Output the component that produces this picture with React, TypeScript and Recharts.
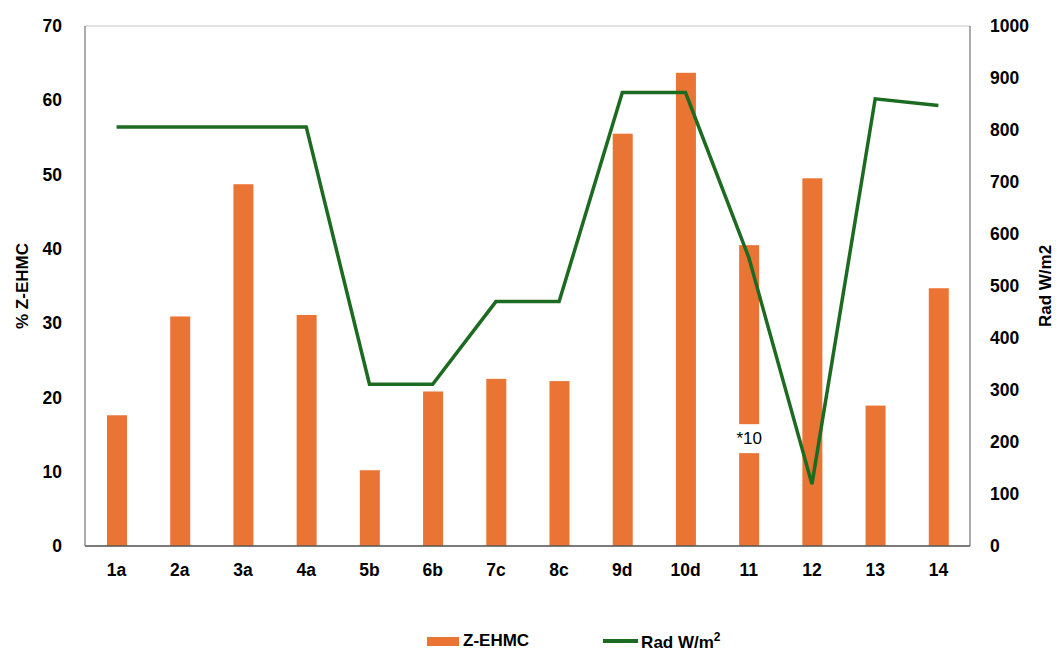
import React from 'react'
import {
  Bar,
  CartesianGrid,
  ComposedChart,
  Legend,
  Line,
  XAxis,
  YAxis,
} from 'recharts'

const categories = ['1a', '2a', '3a', '4a', '5b', '6b', '7c', '8c', '9d', '10d', '11', '12', '13', '14']
const zehmc = [17.6, 30.9, 48.7, 31.1, 10.2, 20.8, 22.5, 22.2, 55.5, 63.7, 40.5, 49.5, 18.9, 34.7]
const rad = [806, 806, 806, 806, 311, 311, 470, 470, 872, 872, 555, 119, 860, 847]
const leftTicks = [0, 10, 20, 30, 40, 50, 60, 70]
const rightTicks = [0, 100, 200, 300, 400, 500, 600, 700, 800, 900, 1000]

// bar "11" is drawn with a break, labelled *10
const breakCategory = '11'
const breakLabel = '*10'
const breakLow = 12.5
const breakHigh = 16.4

const data = categories.map((name, i) => ({ name, zehmc: zehmc[i], rad: rad[i] }))

const ORANGE = '#EA7433'
const GREEN = '#1C6B21'
const FONT = '"Liberation Sans", Arial, sans-serif'
const tickStyle = { fill: '#000', fontSize: 17.5, fontWeight: 'bold', fontFamily: FONT }

const BarShape = (props: any) => {
  const { x, y, width, height, payload } = props
  if (payload.name !== breakCategory) {
    return <rect x={x} y={y} width={width} height={height} fill={ORANGE} />
  }
  const v = payload.zehmc
  const yHigh = y + height * (1 - breakHigh / v)
  const yLow = y + height * (1 - breakLow / v)
  return (
    <g>
      <rect x={x} y={y} width={width} height={yHigh - y} fill={ORANGE} />
      <rect x={x} y={yLow} width={width} height={y + height - yLow} fill={ORANGE} />
      <text
        x={x + width / 2}
        y={(yHigh + yLow) / 2}
        textAnchor="middle"
        dominantBaseline="central"
        fontFamily={FONT}
        fontSize={17}
        fill="#000"
      >
        {breakLabel}
      </text>
    </g>
  )
}

const LegendContent = () => (
  <div
    style={{
      display: 'flex',
      alignItems: 'center',
      paddingLeft: 427,
      fontFamily: FONT,
      fontWeight: 'bold',
      fontSize: 17,
      color: '#000',
      height: 20,
    }}
  >
    <div style={{ display: 'flex', alignItems: 'center', marginRight: 74 }}>
      <div style={{ width: 32, height: 9, background: ORANGE, marginRight: 4 }} />
      <span>Z-EHMC</span>
    </div>
    <div style={{ display: 'flex', alignItems: 'center' }}>
      <div style={{ width: 35, height: 4, background: GREEN, marginRight: 3 }} />
      <span>
        Rad W/m<sup style={{ fontSize: 12 }}>2</sup>
      </span>
    </div>
  </div>
)

export default function App() {
  return (
    <div style={{ position: 'absolute', left: 0, top: 0, background: '#fff' }}>
      <ComposedChart
        width={1059}
        height={653}
        data={data}
        margin={{ top: 26, right: 0, bottom: 67, left: 0 }}
      >
        <CartesianGrid vertical={false} stroke="#D9D9D9" strokeWidth={1.5} />
        <XAxis
          dataKey="name"
          height={40}
          tickLine={false}
          axisLine={{ stroke: '#595959', strokeWidth: 1.5 }}
          tick={tickStyle}
          tickMargin={12}
        />
        <YAxis
          yAxisId="left"
          width={85}
          domain={[0, 70]}
          ticks={leftTicks}
          interval={0}
          tickLine={false}
          axisLine={{ stroke: '#595959', strokeWidth: 1 }}
          tick={tickStyle}
          tickMargin={17}
          label={{
            value: '% Z-EHMC',
            angle: -90,
            position: 'insideLeft',
            offset: 22,
            style: { fill: '#000', fontSize: 17, fontWeight: 'bold', fontFamily: FONT, textAnchor: 'middle' },
          }}
        />
        <YAxis
          yAxisId="right"
          orientation="right"
          width={89}
          domain={[0, 1000]}
          ticks={rightTicks}
          interval={0}
          tickLine={false}
          axisLine={{ stroke: '#595959', strokeWidth: 1 }}
          tick={tickStyle}
          tickMargin={14}
          label={{
            value: 'Rad W/m2',
            angle: -90,
            position: 'insideRight',
            offset: 14,
            style: { fill: '#000', fontSize: 17, fontWeight: 'bold', fontFamily: FONT, textAnchor: 'middle' },
          }}
        />
        <Legend
          layout="horizontal"
          verticalAlign="middle"
          align="center"
          content={<LegendContent />}
          wrapperStyle={{ top: 631, left: 0, width: 1059 }}
        />
        <Bar
          yAxisId="left"
          dataKey="zehmc"
          name="Z-EHMC"
          barSize={20}
          fill={ORANGE}
          shape={<BarShape />}
          isAnimationActive={false}
        />
        <Line
          yAxisId="right"
          dataKey="rad"
          name="Rad W/m2"
          type="linear"
          stroke={GREEN}
          strokeWidth={3.5}
          dot={false}
          activeDot={false}
          isAnimationActive={false}
        />
      </ComposedChart>
    </div>
  )
}
